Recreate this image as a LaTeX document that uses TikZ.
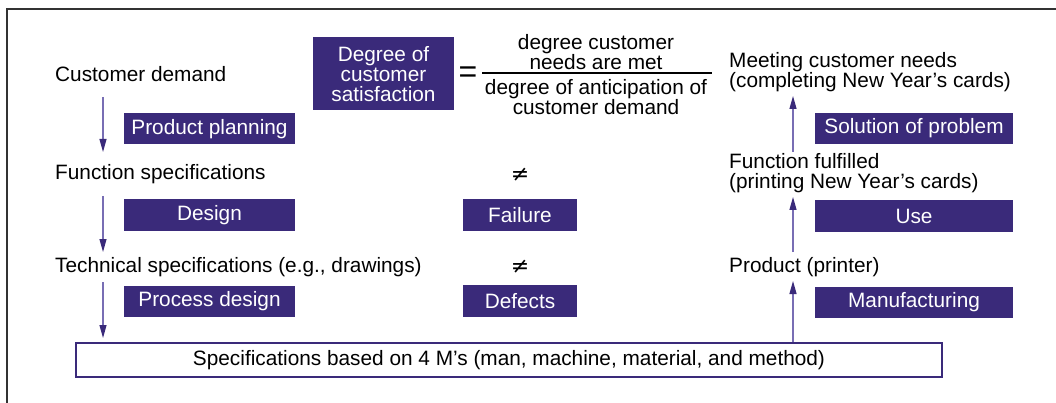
\documentclass[tikz,border=0pt]{standalone}
\usepackage{fontspec}
\setmainfont{Liberation Sans}
\newfontfamily\symfont{DejaVu Sans}
\usetikzlibrary{arrows.meta}
\definecolor{boxpurple}{RGB}{58,42,122}
\definecolor{flowline}{RGB}{120,110,180}
\definecolor{framegray}{RGB}{50,50,50}
\begin{document}
\begin{tikzpicture}[x=1pt,y=-1pt,
  every node/.style={font=\fontsize{20.8}{20.5}\selectfont, inner sep=0pt},
  label/.style={anchor=west, align=left},
  stage/.style={fill=boxpurple, text=white, minimum height=31pt, align=center},
  flow/.style={draw=flowline, line width=1.2pt, -{Triangle[length=13pt,width=7pt,color=boxpurple]}},
  specbox/.style={draw=boxpurple, line width=1.6pt, fill=white, minimum width=866pt, minimum height=34pt},
  relsign/.style={font=\symfont\fontsize{22}{22}\selectfont}
]
\useasboundingbox (0,0) rectangle (1056,403);
% frame
\draw[framegray, line width=2pt] (7,403) -- (7,9) -- (1056,9);

% left column: specification chain
\node[label] (cd) at (55,74) {Customer demand};
\node[label] (fs) at (55,174) {Function specifications};
\node[label] (ts) at (55,267) {Technical specifications (e.g., drawings)};
\node[stage, minimum width=171pt] (pp) at (209.5,129) {Product planning};
\node[stage, minimum width=171pt, minimum height=32pt] (ds) at (209.5,215) {Design};
\node[stage, minimum width=171pt] (pd) at (209.5,301.5) {Process design};

% bottom box
\node[specbox] (mm) at (509,360) {Specifications based on 4 M’s (man, machine, material, and method)};

% left arrows
\coordinate (l1a) at (103,97);  \coordinate (l1b) at (103,152);
\coordinate (l2a) at (103,196); \coordinate (l2b) at (103,252);
\coordinate (l3a) at (103,282); \coordinate (l3b) at (103,338);
\draw[flow] (l1a) -- (l1b);
\draw[flow] (l2a) -- (l2b);
\draw[flow] (l3a) -- (l3b);

% middle column: satisfaction ratio
\node[stage, minimum width=141pt, minimum height=73pt] (dcs) at (383.5,74)
  {Degree of\\[0pt]customer\\[-1pt]satisfaction};
\node (eq) at (468,75) {\fontsize{32}{32}\selectfont =};
\node (num) at (596,52) [align=center] {degree customer\\needs are met};
\node (den) at (596,97) [align=center] {degree of anticipation of\\customer demand};
\coordinate (barL) at (482,73);
\coordinate (barR) at (712,73);
\draw[line width=1.3pt] (barL) -- (barR);

\node[relsign] (ne1) at (520,175) {≠};
\node[relsign] (ne2) at (520,267) {≠};
\node[stage, minimum width=114pt, minimum height=32pt] (fl) at (520,215) {Failure};
\node[stage, minimum width=114pt, minimum height=32pt] (df) at (520,301) {Defects};

% right column: realization chain
\node[label] (mc) at (729,72) {Meeting customer needs\\(completing New Year’s cards)};
\node[label] (ff) at (729,173) {Function fulfilled\\(printing New Year’s cards)};
\node[label] (pr) at (729,267) {Product (printer)};
\node[stage, minimum width=198pt] (sp) at (914,128.5) {Solution of problem};
\node[stage, minimum width=198pt, minimum height=32pt] (us) at (914,216) {Use};
\node[stage, minimum width=198pt] (mf) at (914,302) {Manufacturing};

% right arrows
\coordinate (r1a) at (793,152); \coordinate (r1b) at (793,96);
\coordinate (r2a) at (793,252); \coordinate (r2b) at (793,197);
\coordinate (r3b) at (793,281);
\draw[flow] (r1a) -- (r1b);
\draw[flow] (r2a) -- (r2b);
\draw[flow] (mm.north -| r3b) -- (r3b);
\end{tikzpicture}
\end{document}
